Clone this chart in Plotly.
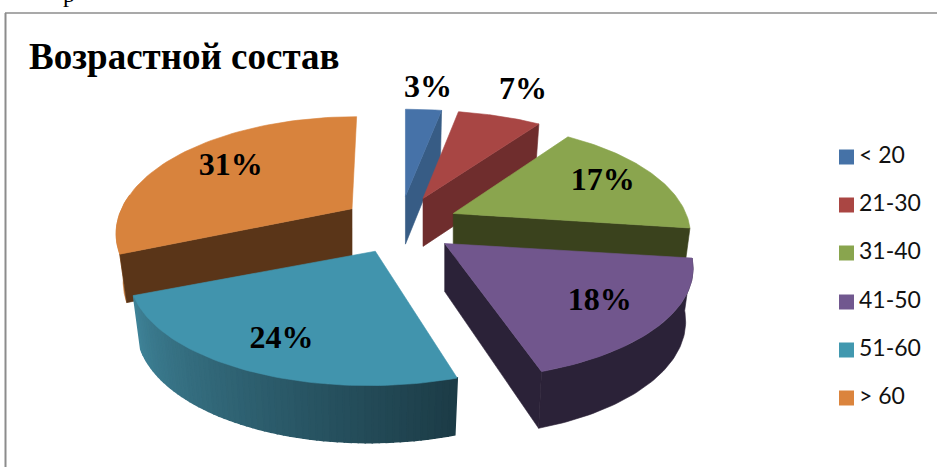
import math
import plotly.graph_objects as go

categories = ["< 20", "21-30", "31-40", "41-50", "51-60", "> 60"]
values = [3, 7, 17, 18, 24, 31]
title_text = "Возрастной состав"

top_colors = ["#4672A8", "#A84644", "#8AA54E", "#71568D", "#4194AD", "#D8833D"]
wall_colors = ["#375C85", "#6F2D2D", "#3A421D", "#2B2238", "#1C3C47", "#5A3518"]
legend_colors = ["#4572A7", "#AA4643", "#89A54E", "#71588F", "#4198AF", "#DB843D"]
label_fracs = [1.24, 1.31, 0.76, 0.72, 0.74, 0.73]
legend_y = [157, 205, 253, 302, 350, 398]

# projection settings (pixels), per-slice tweaks follow the picture's perspective
CX, CY = 400, 225
EX, EY = 58, 29
RX, RY = 240, 112
PERSP = 0.2
H_APEX, H_RIM, H_VAR = 48, 52, 5
SHRINK = 0.97
W, H = 937, 467
radius_scale = [1.0, 0.98, 0.97, 1.01, 1.0, 0.96]
ry_scale = [0.97, 1.0, 1.04, 1.0, 1.0, 1.07]
skew = [0, 0, 0, 0.06, -0.05, -0.05]
depth_scale = [1, 1, 1, 1, 1, 0.9]

total = sum(values)
starts, ends = [], []
acc = 0
for v in values:
    starts.append(acc / total * 2 * math.pi)
    acc += v
    ends.append(acc / total * 2 * math.pi)


def apex(i):
    mid = (starts[i] + ends[i]) / 2
    return CX + EX * math.sin(mid), CY - EY * math.cos(mid)


def top_pt(i, t, frac=1.0):
    ax, ay = apex(i)
    s = (1 - PERSP * math.cos(t)) * radius_scale[i] * frac
    dy = -RY * ry_scale[i] * s * math.cos(t)
    return ax + RX * s * math.sin(t) + skew[i] * dy, ay + dy


def bot_pt(i, t):
    ax, _ = apex(i)
    x, y = top_pt(i, t)
    return ax + (x - ax) * SHRINK, y + (H_RIM - H_VAR * math.cos(t)) * depth_scale[i]


def arc(a, b, n=60):
    return [a + (b - a) * k / n for k in range(n + 1)]


fig = go.Figure()


def poly(pts, color, name, lw=0.6):
    xs = [p[0] for p in pts] + [pts[0][0]]
    ys = [p[1] for p in pts] + [pts[0][1]]
    fig.add_trace(go.Scatter(x=xs, y=ys, mode="lines", fill="toself", fillcolor=color,
                             line=dict(color=color, width=lw), hoverinfo="skip",
                             showlegend=False, name=name))


def top_face(i):
    poly([apex(i)] + [top_pt(i, t) for t in arc(starts[i], ends[i])], top_colors[i],
         categories[i])


def wall(i, t):
    ax, ay = apex(i)
    poly([(ax, ay), top_pt(i, t), bot_pt(i, t), (ax, ay + H_APEX)], wall_colors[i],
         categories[i])


def rim(i, a, b, color, lw=0.6):
    ts = arc(a, b, 8 if lw > 1 else 60)
    poly([top_pt(i, t) for t in ts] + [bot_pt(i, t) for t in reversed(ts)], color,
         categories[i], lw)


def mix(c1, c2, f):
    a = [int(c1[k:k + 2], 16) for k in (1, 3, 5)]
    b = [int(c2[k:k + 2], 16) for k in (1, 3, 5)]
    return "#" + "".join(f"{round(x + (y - x) * f):02X}" for x, y in zip(a, b))


# back to front: blue, red, orange, green, purple, teal
wall(0, ends[0]); top_face(0)
wall(1, ends[1]); top_face(1)
rim(5, starts[5], starts[5] + 0.5, "#C97A38")
wall(5, starts[5]); top_face(5)
wall(2, ends[2]); top_face(2)
rim(3, starts[3], ends[3], wall_colors[3])
wall(3, ends[3]); top_face(3)
N = 60
for k in range(N):
    a = ends[4] + (starts[4] - ends[4]) * k / N
    b = ends[4] + (starts[4] - ends[4]) * (k + 1) / N
    rim(4, a, b, mix("#3F8398", "#1C3C47", k / (N - 1)), 1.6)
top_face(4)

# data labels
lx, ly, lt = [], [], []
for i, v in enumerate(values):
    x, y = top_pt(i, (starts[i] + ends[i]) / 2, label_fracs[i])
    lx.append(x); ly.append(y); lt.append(f"{v}%")
fig.add_trace(go.Scatter(x=lx, y=ly, text=lt, mode="text", textposition="middle center",
                         textfont=dict(family="Liberation Serif", size=32, color="black", weight="bold"),
                         hoverinfo="skip", showlegend=False, cliponaxis=False))

# legend
fig.add_trace(go.Scatter(x=[846.5] * 6, y=legend_y, mode="markers",
                         marker=dict(symbol="square", size=15, color=legend_colors, line=dict(width=0)),
                         hoverinfo="skip", showlegend=False, cliponaxis=False))
fig.add_trace(go.Scatter(x=[859] * 6, y=legend_y, text=categories, mode="text",
                         textposition="middle right",
                         textfont=dict(family="Lato", size=23, color="#111111"),
                         hoverinfo="skip", showlegend=False, cliponaxis=False))

fig.update_layout(
    width=W, height=H, margin=dict(l=0, r=0, t=0, b=0),
    paper_bgcolor="white", plot_bgcolor="white", showlegend=False,
    xaxis=dict(range=[0, W], visible=False, fixedrange=True),
    yaxis=dict(range=[H, 0], visible=False, fixedrange=True),
    annotations=[
        dict(text=title_text, x=27, y=56, xref="x", yref="y", xanchor="left", yanchor="middle",
             showarrow=False, font=dict(family="Liberation Serif", size=37, color="black", weight="bold")),
        dict(text="р", x=69 / W, y=1 + 6 / H, xref="paper", yref="paper", xanchor="center", yanchor="middle",
             showarrow=False, font=dict(family="Liberation Serif", size=24, color="black")),
    ],
    shapes=[
        dict(type="line", x0=5.5, x1=5.5, y0=13, y1=H, xref="x", yref="y",
             line=dict(color="#8C8C8C", width=2)),
        dict(type="line", x0=5, x1=W, y0=13, y1=13, xref="x", yref="y",
             line=dict(color="#8C8C8C", width=1.5)),
    ],
)
fig.write_html("out.html", config=dict(displayModeBar=False),
               post_script="document.body.style.margin='0';document.documentElement.style.overflow='hidden';")
